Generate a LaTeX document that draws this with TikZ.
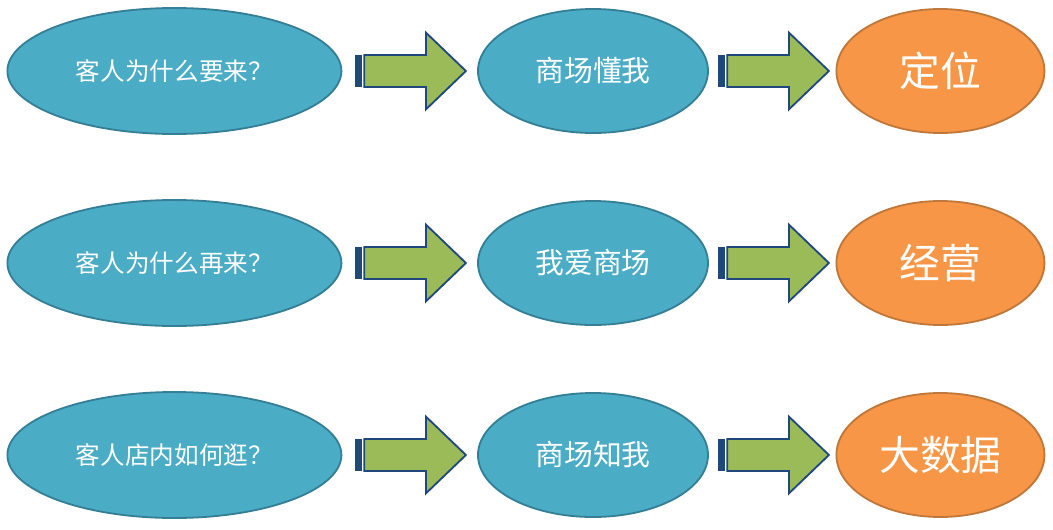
\documentclass[tikz,border=0pt]{standalone}
\usepackage{fontspec}
\setmainfont{Noto Sans CJK SC}
\usetikzlibrary{shapes.geometric,calc}
\definecolor{aqua}{HTML}{4BACC6}
\definecolor{aquaedge}{HTML}{357F96}
\definecolor{peach}{HTML}{F79646}
\definecolor{peachedge}{HTML}{C0773A}
\definecolor{leaf}{HTML}{9BBB59}
\definecolor{navy}{HTML}{1F497D}
\tikzset{
  bubble/.style={ellipse, draw=aquaedge, fill=aqua, line width=1.3pt, text=white, inner sep=0pt},
  ask/.style={bubble, minimum width=8.35cm, minimum height=3.15cm, font=\fontsize{17.5}{20}\selectfont},
  mall/.style={bubble, minimum width=5.75cm, minimum height=3.1cm, font=\fontsize{20.5}{24}\selectfont},
  goal/.style={bubble, draw=peachedge, fill=peach, minimum width=5.2cm, minimum height=3.1cm, font=\fontsize{29}{34}\selectfont},
  pics/bararrow/.style={code={
    \fill[navy] (0,-0.4) rectangle (0.17,0.4);
    \filldraw[fill=leaf, draw=navy, line width=1.3pt, line join=miter]
      (0.24,-0.4) -- (1.78,-0.4) -- (1.78,-0.96) -- (2.78,0) -- (1.78,0.96) -- (1.78,0.4) -- (0.24,0.4) -- cycle;
  }},
}
\begin{document}
\begin{tikzpicture}
\useasboundingbox (0,0) rectangle (26.325,-13.25);
% three rows: question -> mall -> goal
\foreach \r/\y/\qa/\mb/\gc in {1/-1.775/客人为什么要来？/商场懂我/定位,
                               2/-6.575/客人为什么再来？/我爱商场/经营,
                               3/-11.375/客人店内如何逛？/商场知我/大数据} {
  \node[ask] (ask\r) at (4.36,\y) {\qa};
  \node[mall] (mall\r) at (14.825,\y) {\mb};
  \node[goal] (goal\r) at (23.51,\y) {\gc};
  \pic at ($(ask\r.east)+(0.31,0)$) {bararrow};
  \pic at ($(mall\r.east)+(0.22,0)$) {bararrow};
}
\end{tikzpicture}
\end{document}
